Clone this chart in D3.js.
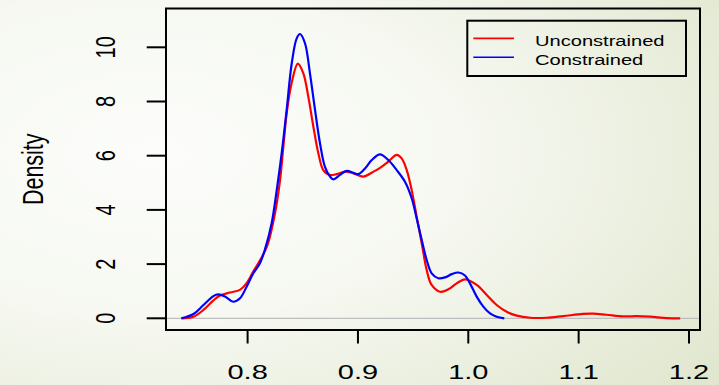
<!DOCTYPE html>
<html><head><meta charset="utf-8">
<script src="https://cdn.jsdelivr.net/npm/d3@7"></script>
<style>html,body{margin:0;padding:0;background:#fff;}svg{display:block;}</style>
</head><body>
<script>
const xTicks = [0.8, 0.9, 1.0, 1.1, 1.2];
const xTickLabels = ["0.8", "0.9", "1.0", "1.1", "1.2"];
const yTicks = [0, 2, 4, 6, 8, 10];
const yTickLabels = ["0", "2", "4", "6", "8", "10"];
const seriesNames = ["Unconstrained", "Constrained"];
const seriesColors = ["#ff0000", "#0000ff"];

const unconX = [0.740,0.751,0.760,0.769,0.775,0.784,0.793,0.799,0.805,0.811,0.818,0.8248,0.8294,0.8324,0.8354,0.840,0.8455,0.8505,0.855,0.8596,0.8641,0.8686,0.8747,0.8807,0.8883,0.8958,0.9049,0.914,0.920,0.9275,0.9351,0.9396,0.9442,0.9487,0.9532,0.9578,0.9623,0.9668,0.9744,0.9819,0.9895,0.997,1.0076,1.0167,1.0257,1.0348,1.0439,1.056,1.071,1.086,1.104,1.113,1.125,1.1405,1.1526,1.1647,1.18,1.192];
const unconY = [0,0.06,0.31,0.66,0.84,0.95,1.05,1.29,1.72,2.12,2.70,3.87,5.10,6.33,7.56,8.70,9.40,9.04,8.18,7.07,6.09,5.47,5.29,5.32,5.41,5.35,5.23,5.41,5.55,5.78,6.03,5.90,5.47,4.73,3.75,2.77,1.78,1.23,0.98,1.07,1.29,1.44,1.23,0.86,0.49,0.24,0.10,0.02,0.02,0.08,0.16,0.17,0.13,0.07,0.08,0.06,0.01,0];

const conX = [0.740,0.751,0.760,0.769,0.7734,0.7795,0.787,0.7931,0.7992,0.8052,0.8112,0.8158,0.8218,0.8264,0.8309,0.8354,0.840,0.8445,0.8475,0.852,0.8565,0.8611,0.8656,0.8701,0.8747,0.8777,0.8837,0.8898,0.8958,0.9003,0.9064,0.9125,0.920,0.9275,0.9351,0.9426,0.9487,0.9532,0.9578,0.9623,0.9668,0.9728,0.9789,0.985,0.991,0.997,1.0015,1.0076,1.0136,1.0197,1.0257,1.0326];
const conY = [0,0.16,0.49,0.82,0.88,0.80,0.61,0.74,1.17,1.66,2.03,2.55,3.51,4.73,6.09,7.69,9.41,10.33,10.49,10.15,9.04,7.69,6.46,5.59,5.23,5.13,5.29,5.44,5.37,5.32,5.53,5.84,6.05,5.84,5.47,5.04,4.43,3.69,2.89,2.15,1.66,1.48,1.51,1.63,1.69,1.58,1.29,0.80,0.43,0.18,0.06,0];

const W = 719, H = 385;
const box = {l:166, t:8.5, r:700, b:330};
const SX = 1.45; // horizontal text stretch of the original

const svg = d3.select("body").append("svg").attr("width", W).attr("height", H);
const defs = svg.append("defs");
const grad = defs.append("radialGradient").attr("id","bg")
  .attr("cx","22%").attr("cy","40%").attr("r","95%").attr("fx","22%").attr("fy","40%");
grad.append("stop").attr("offset","0%").attr("stop-color","#fcfdfb");
grad.append("stop").attr("offset","45%").attr("stop-color","#f6f8f1");
grad.append("stop").attr("offset","100%").attr("stop-color","#e1e7cf");
svg.append("rect").attr("width",W).attr("height",H).attr("fill","url(#bg)");

const x = d3.scaleLinear().domain([0.8,1.2]).range([247.6,689]);
const y = d3.scaleLinear().domain([0,10]).range([318.3,47.3]);

// zero line
svg.append("line").attr("x1",box.l).attr("x2",box.r).attr("y1",y(0)).attr("y2",y(0))
  .attr("stroke","#bebebe").attr("stroke-width",1.2);

const line = d3.line().x(d=>x(d[0])).y(d=>y(d[1])).curve(d3.curveCatmullRom.alpha(0.5));
const series = [d3.zip(unconX,unconY), d3.zip(conX,conY)];
series.forEach((s,i)=>{
  svg.append("path").datum(s).attr("d",line).attr("fill","none")
    .attr("stroke",seriesColors[i]).attr("stroke-width",2.2).attr("stroke-linejoin","round");
});

// box
svg.append("rect").attr("x",box.l).attr("y",box.t).attr("width",box.r-box.l).attr("height",box.b-box.t)
  .attr("fill","none").attr("stroke","#000").attr("stroke-width",2);

const FONT = "Liberation Sans, Arial, sans-serif";
// x axis ticks
const gx = svg.append("g");
xTicks.forEach((t,i)=>{
  gx.append("line").attr("x1",x(t)).attr("x2",x(t)).attr("y1",box.b).attr("y2",343.5)
    .attr("stroke","#000").attr("stroke-width",2);
  gx.append("text").attr("transform",`translate(${x(t)},378.5) scale(${SX},1)`)
    .attr("text-anchor","middle").attr("font-family",FONT)
    .attr("font-size",20).attr("fill","#000").text(xTickLabels[i]);
});
// y axis ticks
const gy = svg.append("g");
yTicks.forEach((t,i)=>{
  gy.append("line").attr("x1",146.7).attr("x2",box.l).attr("y1",y(t)).attr("y2",y(t))
    .attr("stroke","#000").attr("stroke-width",2);
  gy.append("text").attr("transform",`translate(115,${y(t)}) scale(1.38,1) rotate(-90)`)
    .attr("text-anchor","middle").attr("font-family",FONT)
    .attr("font-size",20).attr("fill","#000").text(yTickLabels[i]);
});
// y title
svg.append("text").attr("transform",`translate(43.3,${(box.t+box.b)/2}) scale(1.36,1) rotate(-90)`)
  .attr("text-anchor","middle").attr("font-family",FONT)
  .attr("font-size",21.5).attr("fill","#000").text("Density");

// legend
const lg = svg.append("g");
lg.append("rect").attr("x",467.3).attr("y",20.7).attr("width",686-467.3).attr("height",76-20.7)
  .attr("fill","none").attr("stroke","#000").attr("stroke-width",2);
seriesNames.forEach((n,i)=>{
  const yy = 38.4 + i*18.9;
  lg.append("line").attr("x1",473.3).attr("x2",514).attr("y1",yy).attr("y2",yy)
    .attr("stroke",seriesColors[i]).attr("stroke-width",1.6);
  lg.append("text").attr("transform",`translate(535,${yy+7.2}) scale(1.34,1)`)
    .attr("font-family",FONT).attr("font-size",15)
    .attr("fill","#000").text(n);
});
</script>
</body></html>
